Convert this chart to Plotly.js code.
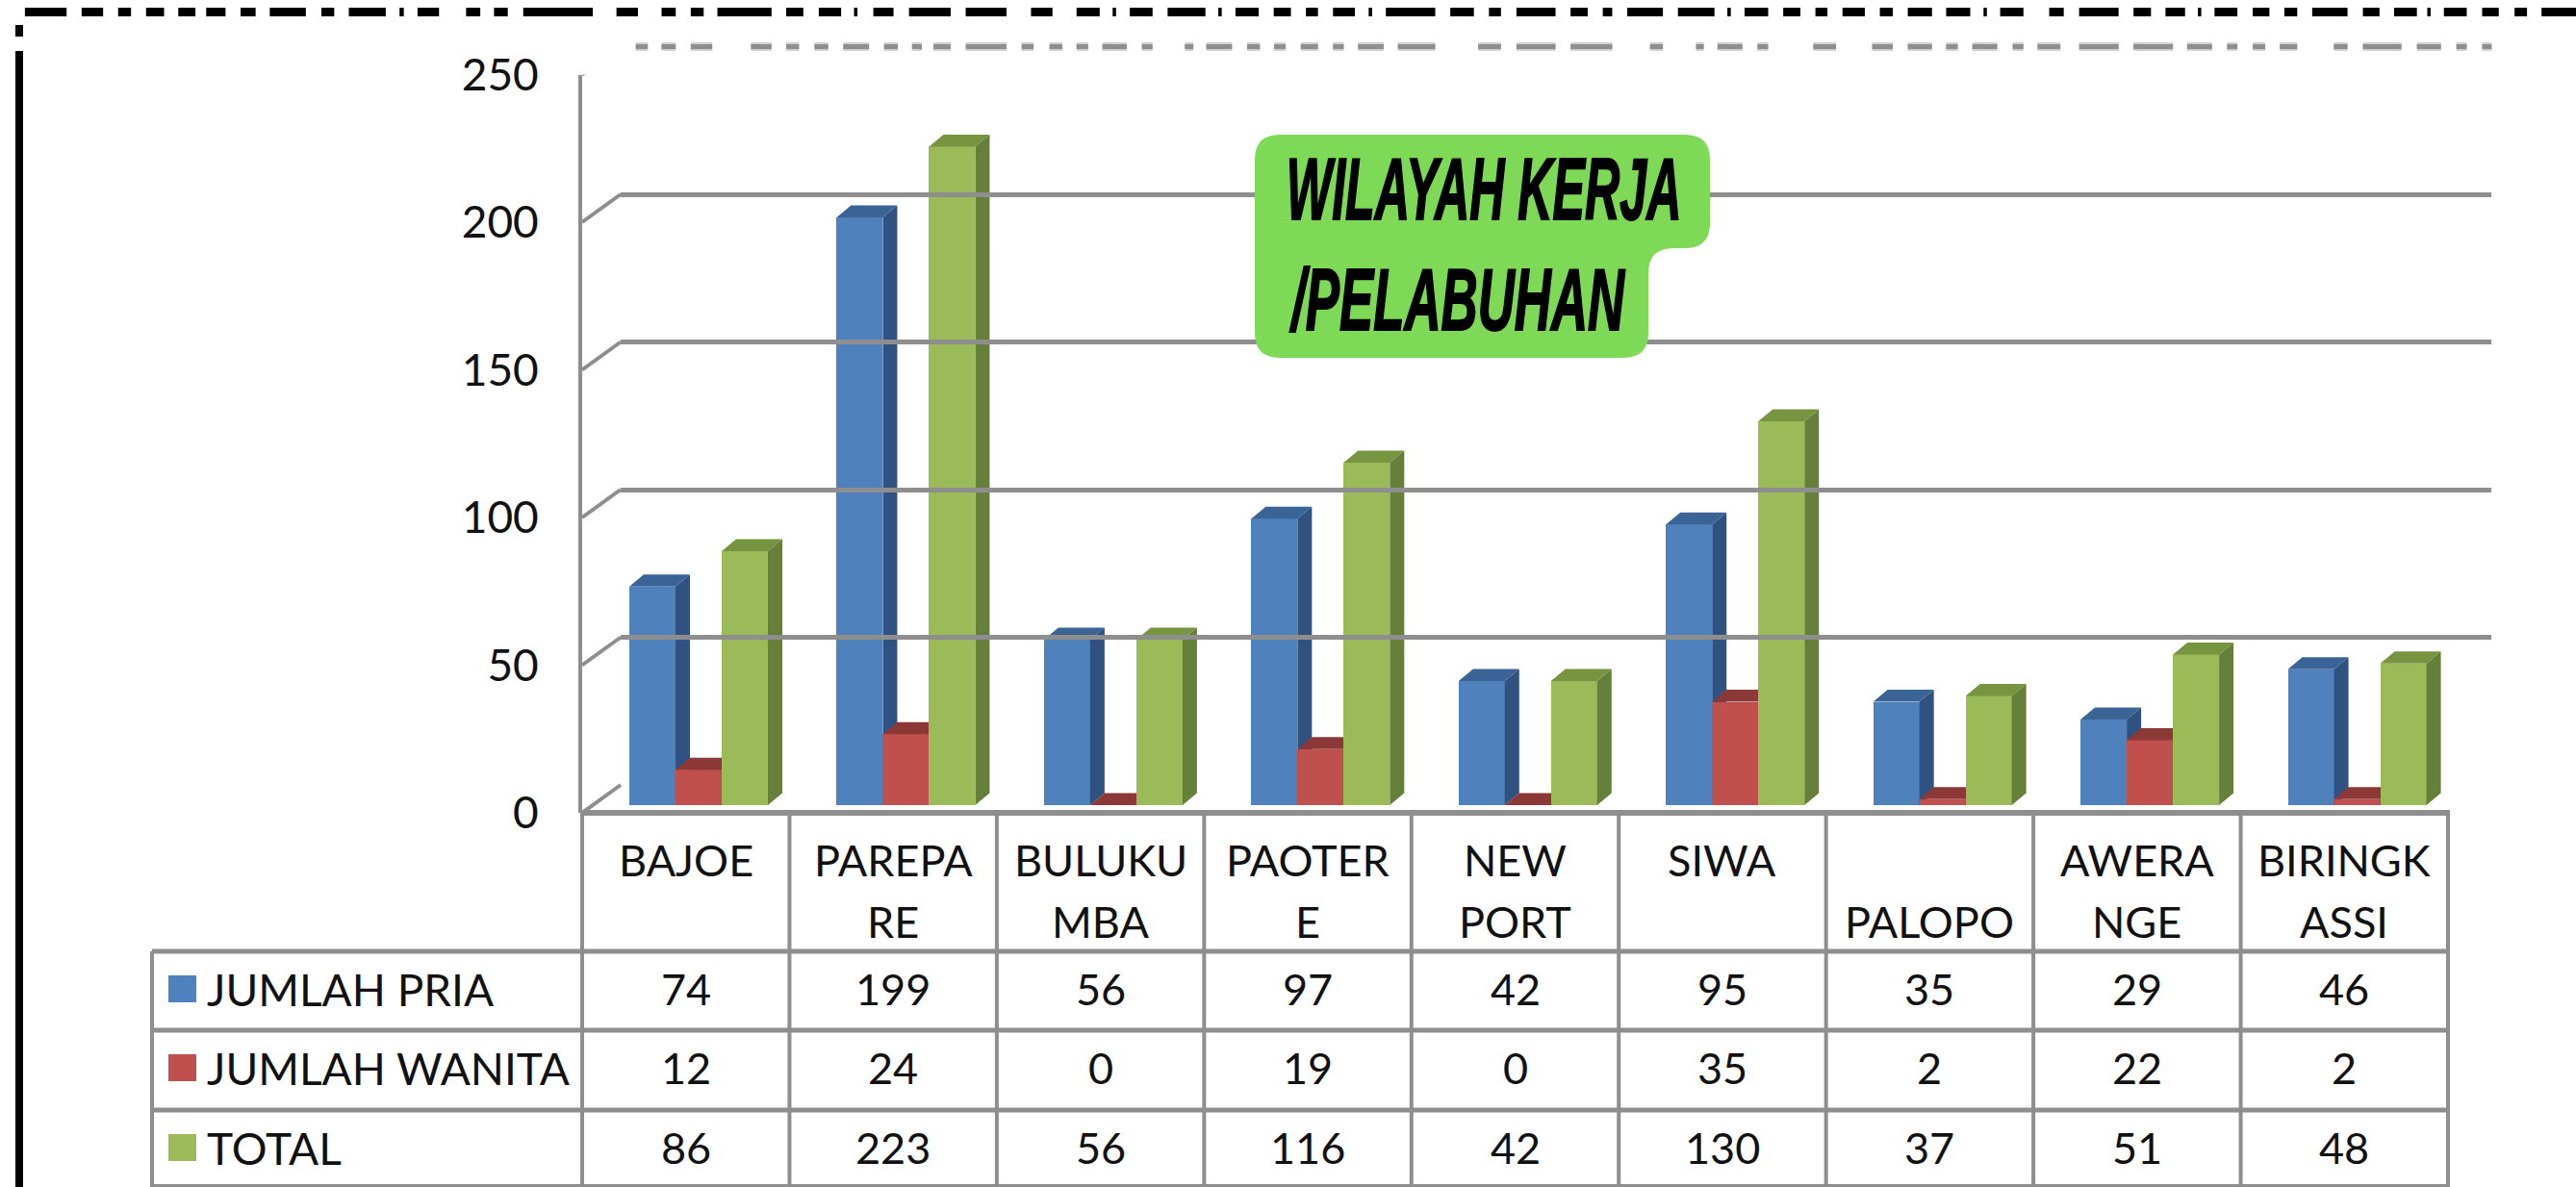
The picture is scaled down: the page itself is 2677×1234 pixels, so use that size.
<!DOCTYPE html>
<html><head><meta charset="utf-8">
<script src="https://cdn.plot.ly/plotly-3.0.1.min.js"></script>
<style>html,body{margin:0;padding:0;background:#fff;overflow:hidden}</style>
</head><body><div id="chart" style="width:2677px;height:1234px"></div>
<script>
var categories = ["BAJOE","PAREPA<br>RE","BULUKU<br>MBA","PAOTER<br>E","NEW<br>PORT","SIWA","<br>PALOPO","AWERA<br>NGE","BIRINGK<br>ASSI"];
var jumlahPria = [74,199,56,97,42,95,35,29,46];
var jumlahWanita = [12,24,0,19,0,35,2,22,2];
var total = [86,223,56,116,42,130,37,51,48];
var seriesNames = ["JUMLAH PRIA","JUMLAH WANITA","TOTAL"];
var yTicks = [0,50,100,150,200,250];

var W=2677,H=1234;
var frontColors=["#4f81bd","#c0504d","#9bbb59"], sideColors=["#2f5280","#8c3836","#667f3a"], capColors=["#3a6495","#8c3836","#779440"];
var GRID="#8e8e8e", FONT="Lato, Carlito, sans-serif";
function px(x){return x/W} function py(y){return 1-y/H}
var L=605,R=2544,PXU=3.07;
var catW=(R-L)/9, barW=48/catW, barStart=49/catW;
var depthX=15/catW, depthY=12.5/PXU;
var traces=[], shapes=[], anns=[];
var allSeries=[jumlahPria,jumlahWanita,total];

allSeries.forEach(function(vals,s){
  var n=s===0?'':String(s+1);
  var xa='x'+n, ya='y'+n;
  var xs=vals.map(function(_,i){return i+barStart+barW*(s+0.5)});
  traces.push({type:'bar',x:xs,y:vals,width:barW,name:seriesNames[s],marker:{color:frontColors[s],line:{width:0}},xaxis:xa,yaxis:ya,showlegend:false,hoverinfo:'y'});
  var sx=[],sy=[],cx=[],cy=[];
  vals.forEach(function(v,i){
    var a=i+barStart+barW*s, b=a+barW;
    sx.push(b,b+depthX,b+depthX,b,b,null); sy.push(0,depthY,v+depthY,v,0,null);
    cx.push(a,a+depthX,b+depthX,b,a,null); cy.push(v,v+depthY,v+depthY,v,v,null);
  });
  traces.push({type:'scatter',mode:'lines',x:sx,y:sy,fill:'toself',fillcolor:sideColors[s],line:{width:0},xaxis:xa,yaxis:ya,showlegend:false,hoverinfo:'skip'});
  traces.push({type:'scatter',mode:'lines',x:cx,y:cy,fill:'toself',fillcolor:capColors[s],line:{width:0},xaxis:xa,yaxis:ya,showlegend:false,hoverinfo:'skip'});
});

var wx=40/catW;
var sl={x:[],y:[]};
yTicks.forEach(function(v){ sl.x.push(0,wx,null); sl.y.push(v,v+29/PXU,null); });
sl.x.push(9,9+wx,null); sl.y.push(0,29/PXU,null);
traces.unshift({type:'scatter',mode:'lines',x:sl.x,y:sl.y,line:{color:GRID,width:4},xaxis:'x4',yaxis:'y4',showlegend:false,hoverinfo:'skip',cliponaxis:false});
traces.unshift({type:'scatter',mode:'lines',x:[0],y:[0],line:{width:0},xaxis:'x5',yaxis:'y5',showlegend:false,hoverinfo:'skip'});

var barY0=837, top0=barY0-250*PXU;
var catRange=[0,9];
function dom(a,b){return [a/W,b/W]}
function vdom(yb,yt){return [1-yb/H,1-yt/H]}
var hidden={visible:false,fixedrange:true};
var layout={
  width:W,height:H,margin:{l:0,r:0,t:0,b:0,pad:0},paper_bgcolor:'#fff',plot_bgcolor:'rgba(0,0,0,0)',showlegend:false,bargap:0,barmode:'overlay',
  xaxis:Object.assign({domain:dom(L,R),range:catRange,anchor:'y'},hidden),
  yaxis:Object.assign({domain:vdom(barY0,top0),range:[0,250],anchor:'x'},hidden),
  xaxis2:Object.assign({domain:dom(L,R),range:catRange,anchor:'y2',overlaying:'x'},hidden),
  yaxis2:Object.assign({domain:vdom(barY0,top0),range:[0,250],anchor:'x2',overlaying:'y'},hidden),
  xaxis3:Object.assign({domain:dom(L,R),range:catRange,anchor:'y3',overlaying:'x'},hidden),
  yaxis3:Object.assign({domain:vdom(barY0,top0),range:[0,250],anchor:'x3',overlaying:'y'},hidden),
  xaxis4:Object.assign({domain:dom(L,R),range:catRange,anchor:'y4'},hidden),
  yaxis4:{domain:vdom(845,845-250*PXU),range:[0,250],anchor:'x4',tickvals:yTicks,ticks:'outside',ticklen:32,tickcolor:'rgba(0,0,0,0)',showgrid:false,showline:true,linecolor:GRID,linewidth:4,zeroline:false,tickfont:{family:FONT,size:46,color:'#111'},fixedrange:true},
  xaxis5:Object.assign({domain:dom(L+40,R+45),range:[0,1],anchor:'y5'},hidden),
  yaxis5:{domain:vdom(816,816-250*PXU),range:[0,250],anchor:'x5',tickvals:yTicks.slice(0,5),showticklabels:false,ticks:'',showgrid:true,gridcolor:GRID,gridwidth:5,zeroline:false,showline:false,fixedrange:true},
  shapes:shapes,annotations:anns
};

function hline(x0,x1,y,w){shapes.push({type:'line',xref:'paper',yref:'paper',x0:px(x0),x1:px(x1),y0:py(y),y1:py(y),line:{color:GRID,width:w||5},layer:'above'})}
function vline(x,y0,y1,w){shapes.push({type:'line',xref:'paper',yref:'paper',x0:px(x),x1:px(x),y0:py(y0),y1:py(y1),line:{color:GRID,width:w||4},layer:'above'})}
hline(L,R,845,6);
[989,1071,1154].forEach(function(y){hline(158,R,y,5)});
hline(158,R,1233,4);
vline(158,989,1234);
for(var c=0;c<=9;c++){ vline(L+c*catW,842,1234); }

var TEXT='#111';
function label(t,x,y,anchor,size){anns.push({xref:'paper',yref:'paper',x:px(x),y:py(y),text:t,showarrow:false,xanchor:anchor||'center',yanchor:'middle',font:{family:FONT,size:size||45,color:TEXT}})}
categories.forEach(function(c,i){
  var parts=c.split('<br>'), cx=L+(i+0.5)*catW;
  if(parts[0]) label(parts[0],cx,894);
  if(parts[1]) label(parts[1],cx,958);
});
var rowY=[1028,1110,1193];
allSeries.forEach(function(vals,s){
  shapes.push({type:'rect',xref:'paper',yref:'paper',x0:px(175),x1:px(204),y0:py(rowY[s]-14),y1:py(rowY[s]+14),fillcolor:frontColors[s],line:{width:0},layer:'above'});
  label(seriesNames[s],213,rowY[s],'left',46);
  vals.forEach(function(v,i){label(String(v),L+(i+0.5)*catW,rowY[s])});
});

var r=26;
function P(x,y){return px(x)+' '+py(y)}
var path='M '+P(1304+r,140)+' L '+P(1777-r,140)+' Q '+P(1777,140)+' '+P(1777,140+r)+' L '+P(1777,258-r)+' Q '+P(1777,258)+' '+P(1777-r,258)+' L '+P(1713+r,258)+' Q '+P(1713,258)+' '+P(1713,258+r)+' L '+P(1713,372-r)+' Q '+P(1713,372)+' '+P(1713-r,372)+' L '+P(1304+r,372)+' Q '+P(1304,372)+' '+P(1304,372-r)+' L '+P(1304,140+r)+' Q '+P(1304,140)+' '+P(1304+r,140)+' Z';
shapes.push({type:'path',xref:'paper',yref:'paper',path:path,fillcolor:'#7ed957',line:{width:0},layer:'above'});
var callFont={family:'"Liberation Sans", sans-serif',size:66,color:'#000'};
anns.push({xref:'paper',yref:'paper',x:px(1542),y:py(196),text:'<b><i>WILAYAH KERJA</i></b>',showarrow:false,font:callFont,xanchor:'center',yanchor:'middle'});
anns.push({xref:'paper',yref:'paper',x:px(1514),y:py(311),text:'<b><i>/PELABUHAN</i></b>',showarrow:false,font:callFont,xanchor:'center',yanchor:'middle'});

function rect(x0,x1,y0,y1,col){shapes.push({type:'rect',xref:'paper',yref:'paper',x0:px(x0),x1:px(x1),y0:py(y0),y1:py(y1),fillcolor:col,line:{width:0},layer:'above'})}
rect(16,24,53,1234,'#000');
rect(16,24,26,38,'#000');

var blackA=[[58,155],[190,240],[275,305],[340,382],[415,455],[480,525],[560,595],[628,712],[748,778],[812,898],[930,940],[972,1022],[1085,1118],[1150,1182],[1218,1380],[1435,1485],[1540,1568]];
var blackB=[[0,5],[40,70],[102,228],[262,302],[338,390],[420,428],[465,512],[548,645],[680,775],[832,882],[938,992],[1022,1030],[1062,1115],[1150,1238],[1268,1276],[1308,1362],[1397,1437],[1472,1500],[1535,1568]];
var blackC=[[0,18],[50,58],[90,205],[240,295],[330,358],[394,485],[520,560],[595,617],[652,735],[770,855],[885,893],[925,980],[1015,1055],[1090,1118],[1153,1205],[1240,1270],[1305,1344]];
var blackD=[[0,18],[52,110],[142,150],[182,238],[300,335],[372,467],[503,545],[580,627],[658,666],[698,753],[790,830],[866,897],[933,1018],[1055,1095],[1130,1185],[1210,1218],[1250,1305],[1342,1382],[1420,1450],[1485,1568]];
var grayA=[[1480,1508],[1540,1568]];
var grayB=[[0,5],[40,90],[180,228],[262,292],[328,360],[395,455],[490,522],[555,578],[605,645],[680,775],[810,838],[875,905],[938,965],[998,1055],[1090,1115],[1190,1210],[1240,1300],[1335,1365],[1398,1425],[1460,1500],[1535,1560]];
var grayC=[[25,85],[118,205],[305,358],[394,485],[520,617],[705,735],[812,830],[862,920],[955,980],[1085,1138],[1222,1270],[1305,1344]];
var grayD=[[0,18],[52,80],[115,175],[212,238],[272,327],[372,467],[503,598],[632,692],[728,753],[790,820],[855,897],[985,1018],[1055,1148],[1185,1243],[1280,1305],[1342,1365]];
function strip(list,off,k,y0,y1,col){list.forEach(function(s){rect(off+s[0]/k,off+s[1]/k,y0,y1,col)})}
[[blackA,0,2.24],[blackB,700,2.24],[blackC,1400,2.24],[blackD,2000,2.316]].forEach(function(a){strip(a[0],a[1],a[2],8,17,'#000')});
[[grayA,0,2.24],[grayB,700,2.24],[grayC,1400,2.24],[grayD,2000,2.316]].forEach(function(a){
  strip(a[0],a[1],a[2],44,53,'#d0d0d0');
  strip(a[0],a[1],a[2],46,51,'#8e8e8e');
});

Plotly.newPlot('chart',traces,layout,{displayModeBar:false,staticPlot:true}).then(function(){
  var fit={'WILAYAH KERJA':[0.76,1.38],'/PELABUHAN':[0.80,1.38]};
  document.querySelectorAll('#chart .annotation-text-g text, #chart .annotation text').forEach(function(t){
    var f=fit[t.textContent];
    if(!f) return;
    var b=t.getBBox(), cx=b.x+b.width/2, cy=b.y+b.height/2;
    t.setAttribute('transform','translate('+cx+' '+cy+') scale('+f[0]+' '+f[1]+') translate('+(-cx)+' '+(-cy)+')');
    t.style.stroke='#000'; t.style.strokeWidth='1.5px';
  });
});
</script></body></html>
